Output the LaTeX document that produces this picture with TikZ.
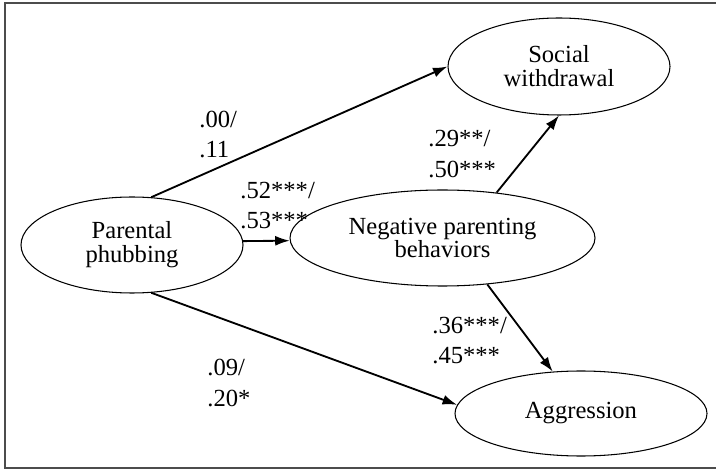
\documentclass[tikz,border=0pt]{standalone}
\usepackage{fontspec}
\setmainfont{Liberation Serif}
\usetikzlibrary{arrows.meta,shapes.geometric}

\begin{document}
\begin{tikzpicture}[
  font=\fontsize{14}{13.6}\selectfont,
  >={Latex[length=2.9mm,width=2mm]},
  var/.style={draw,ellipse,line width=0.6pt,inner sep=0pt,align=center},
  path/.style={->,line width=1.05pt},
  coef/.style={anchor=west,inner sep=0pt,align=left,font=\fontsize{14}{17.6}\selectfont},
  frame/.style={draw=black!70,line width=0.9pt}
]
\useasboundingbox (0,0) rectangle (14.32,9.44);
% frame
\draw[frame] (14.32,9.38) -- (0.10,9.38) -- (0.10,0.08) -- (14.32,0.08);

% variables
\node[var,minimum width=44.4mm,minimum height=19.2mm] (pp) at (2.64,4.54)
  {Parental\\phubbing};
\node[var,minimum width=61mm,minimum height=19.2mm] (npb) at (8.85,4.68)
  {Negative parenting\\behaviors};
\node[var,minimum width=44.4mm,minimum height=19.4mm] (sw) at (11.18,8.11)
  {Social\\withdrawal};
\node[var,minimum width=50.4mm,minimum height=17mm] (agg) at (11.62,1.17)
  {Aggression};

% paths
\draw[path] (pp.68) -- (sw.west);
\draw[path] (pp.2) -- (npb.181);
\draw[path] (pp.292) -- (agg.176);
\draw[path] (npb.40) -- (sw.south);
\draw[path] (npb.314) -- (agg.124);

% coefficients
\node[coef] (c1) at (3.98,6.75) {.00/\\.11};
\node[coef] (c2) at (4.80,5.33) {.52***/\\.53***};
\node[coef] (c3) at (8.56,6.36) {.29**/\\.50***};
\node[coef] (c4) at (8.64,2.63) {.36***/\\.45***};
\node[coef] (c5) at (4.14,1.78) {.09/\\.20*};
\end{tikzpicture}
\end{document}
